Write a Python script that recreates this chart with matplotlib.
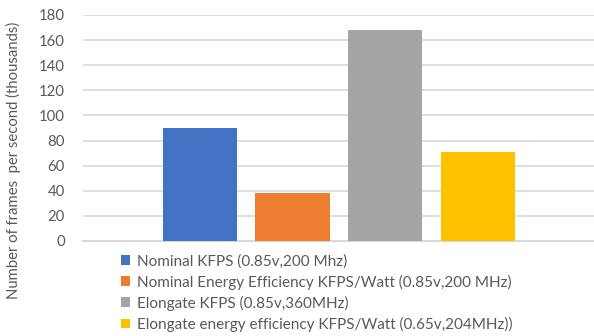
import matplotlib
matplotlib.use("Agg")
import matplotlib.pyplot as plt
from matplotlib.patches import Patch

series = ["Nominal KFPS (0.85v,200 Mhz)",
          "Nominal Energy Efficiency KFPS/Watt (0.85v,200 MHz)",
          "Elongate KFPS (0.85v,360MHz)",
          "Elongate energy efficiency KFPS/Watt (0.65v,204MHz))"]
values = [90, 38.2, 168, 70.9]
colors = ["#4472C4", "#ED7D31", "#A5A5A5", "#FFC000"]
yticks = [0, 20, 40, 60, 80, 100, 120, 140, 160, 180]

plt.rcParams['font.family'] = ['Lato', 'DejaVu Sans']

fig = plt.figure(figsize=(5.94, 3.36), dpi=100)
ax = fig.add_axes([83/594, 1-241/336, 1-83/594, (241-15)/336])

for i, (v, c) in enumerate(zip(values, colors)):
    ax.bar(i, v, width=0.8, color=c, zorder=3)

ax.set_xlim(-1.26, 4.25)
ax.set_ylim(0, 180)
ax.set_yticks(yticks)
ax.set_xticks([])
ax.yaxis.grid(True, color="#d9d9d9", linewidth=1.2, zorder=0)
ax.tick_params(axis='y', length=0, pad=13, labelsize=10.75, labelcolor="#595959")
for s in ["top", "right", "left"]:
    ax.spines[s].set_visible(False)
ax.spines["bottom"].set_color("#d9d9d9")
ax.spines["bottom"].set_linewidth(1.5)
ax.set_ylabel("Number of frames  per second (thousands)", fontsize=10.75, color="#595959")
ax.yaxis.set_label_coords((21-83)/511, (241-160)/226)

handles = [Patch(facecolor=c, edgecolor='none') for c in colors]
fig.legend(handles, series, loc="upper left", bbox_to_anchor=(121/594, 1-254/336),
           frameon=False, fontsize=11, labelcolor="#595959",
           handlelength=0.62, handleheight=0.62, handletextpad=0.45,
           labelspacing=0.40, borderaxespad=0, borderpad=0)

fig.savefig("out.png", dpi=100)
